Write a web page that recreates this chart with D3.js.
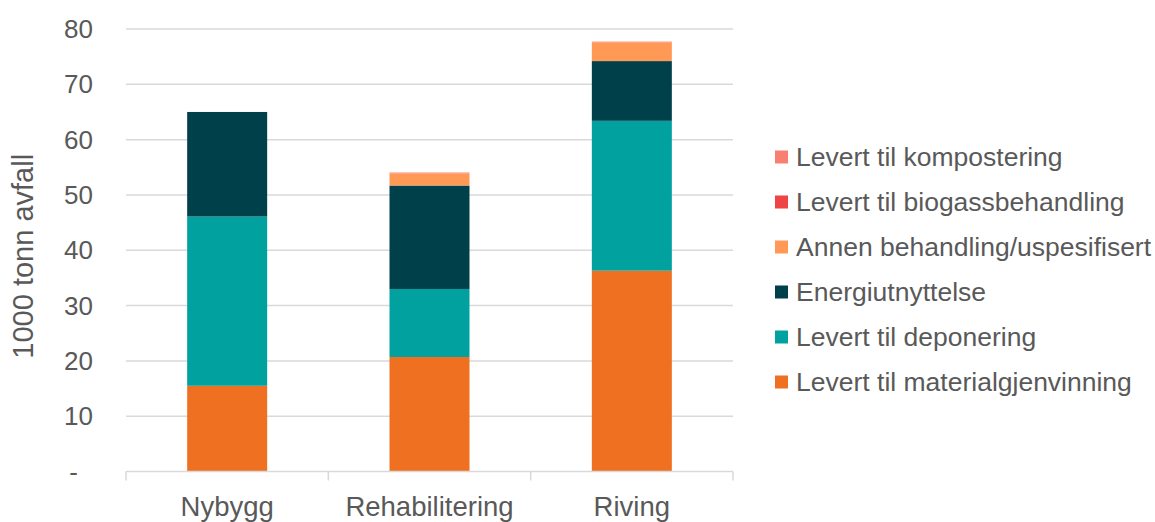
<!DOCTYPE html>
<html>
<head>
<meta charset="utf-8">
<script src="https://cdn.jsdelivr.net/npm/d3@7"></script>
<style>
  body { margin: 0; background: #fff; }
  text { font-family: "Liberation Sans", Arial, sans-serif; fill: #595959; }
</style>
</head>
<body>
<div id="chart"></div>
<script>
var categories = ["Nybygg", "Rehabilitering", "Riving"];
var materialgjenvinning = [15.5, 20.7, 36.3];
var deponering = [30.6, 12.3, 27.1];
var energiutnyttelse = [18.9, 18.7, 10.8];
var annen = [0, 2.2, 3.4];
var biogass = [0, 0, 0];
var kompostering = [0, 0.15, 0.12];
var seriesNames = ["Levert til materialgjenvinning", "Levert til deponering", "Energiutnyttelse",
    "Annen behandling/uspesifisert", "Levert til biogassbehandling", "Levert til kompostering"];
var colors = ["#f07022", "#00a19f", "#00404a", "#ff9955", "#ee4444", "#f98070"];
var yTicks = [0, 10, 20, 30, 40, 50, 60, 70, 80];

function init() {
    var margin = { top: 29, right: 422, bottom: 50.5, left: 126 };
    var width = 1155 - margin.left - margin.right;
    var height = 522 - margin.top - margin.bottom;

    var rows = categories.map(function (c, i) {
        return { cat: c, s0: materialgjenvinning[i], s1: deponering[i], s2: energiutnyttelse[i],
                 s3: annen[i], s4: biogass[i], s5: kompostering[i] };
    });
    var keys = ["s0", "s1", "s2", "s3", "s4", "s5"];
    var stacked = d3.stack().keys(keys)(rows);

    var svg = d3.select("#chart")
        .append("svg")
        .attr("width", 1155)
        .attr("height", 522);
    var g = svg.append("g")
        .attr("transform", "translate(" + margin.left + "," + margin.top + ")");

    var p = 1 - 80 / (width / categories.length);
    var xScale = d3.scaleBand().domain(categories).range([0, width])
        .paddingInner(p).paddingOuter(p / 2);
    var xStep = d3.scaleBand().domain(categories).range([0, width]);
    var yScale = d3.scaleLinear().domain([0, 80]).range([height, 0]);

    // gridlines
    g.selectAll(".grid")
        .data(yTicks.filter(function (d) { return d > 0; }))
        .enter().append("line")
        .attr("x1", 0).attr("x2", width)
        .attr("y1", function (d) { return yScale(d); })
        .attr("y2", function (d) { return yScale(d); })
        .attr("stroke", "#d9d9d9").attr("stroke-width", 1.5);

    // y labels
    g.selectAll(".ylab")
        .data(yTicks)
        .enter().append("text")
        .attr("x", function (d) { return d === 0 ? -48 : -33; })
        .attr("y", function (d) { return yScale(d); })
        .attr("dy", "0.35em")
        .attr("text-anchor", "end")
        .style("font-size", "26px")
        .text(function (d) { return d === 0 ? "-" : d; });

    // bars
    g.selectAll(".layer")
        .data(stacked)
        .enter().append("g")
        .attr("fill", function (d, i) { return colors[i]; })
        .selectAll("rect")
        .data(function (d) { return d; })
        .enter().append("rect")
        .attr("x", function (d) { return xScale(d.data.cat); })
        .attr("width", xScale.bandwidth())
        .attr("y", function (d) { return yScale(d[1]); })
        .attr("height", function (d) { return yScale(d[0]) - yScale(d[1]); });

    // x axis line and ticks
    g.append("line")
        .attr("x1", 0).attr("x2", width)
        .attr("y1", height).attr("y2", height)
        .attr("stroke", "#d9d9d9").attr("stroke-width", 1.5);
    var bounds = categories.map(function (c) { return xStep(c); }).concat([width]);
    g.selectAll(".xtick")
        .data(bounds)
        .enter().append("line")
        .attr("x1", function (d) { return d; }).attr("x2", function (d) { return d; })
        .attr("y1", height).attr("y2", height + 9)
        .attr("stroke", "#d9d9d9").attr("stroke-width", 1.5);

    g.selectAll(".xlab")
        .data(categories)
        .enter().append("text")
        .attr("x", function (d) { return xStep(d) + xStep.bandwidth() / 2; })
        .attr("y", height + 44)
        .attr("text-anchor", "middle")
        .style("font-size", "27.5px")
        .text(function (d) { return d; });

    // y title
    svg.append("text")
        .attr("transform", "translate(33," + (margin.top + height / 2 + 6) + ") rotate(-90)")
        .attr("text-anchor", "middle")
        .style("font-size", "29px")
        .text("1000 tonn avfall");

    // legend
    var legend = svg.append("g").attr("transform", "translate(775,157)");
    var order = [5, 4, 3, 2, 1, 0];
    var item = legend.selectAll(".item")
        .data(order)
        .enter().append("g")
        .attr("transform", function (d, i) { return "translate(0," + i * 45 + ")"; });
    item.append("rect")
        .attr("x", 0).attr("y", -6.5)
        .attr("width", 13).attr("height", 13)
        .attr("fill", function (d) { return colors[d]; });
    item.append("text")
        .attr("x", 21).attr("y", 0).attr("dy", "0.35em")
        .style("font-size", "26.5px")
        .text(function (d) { return seriesNames[d]; });
}

window.onload = init;
</script>
</body>
</html>
